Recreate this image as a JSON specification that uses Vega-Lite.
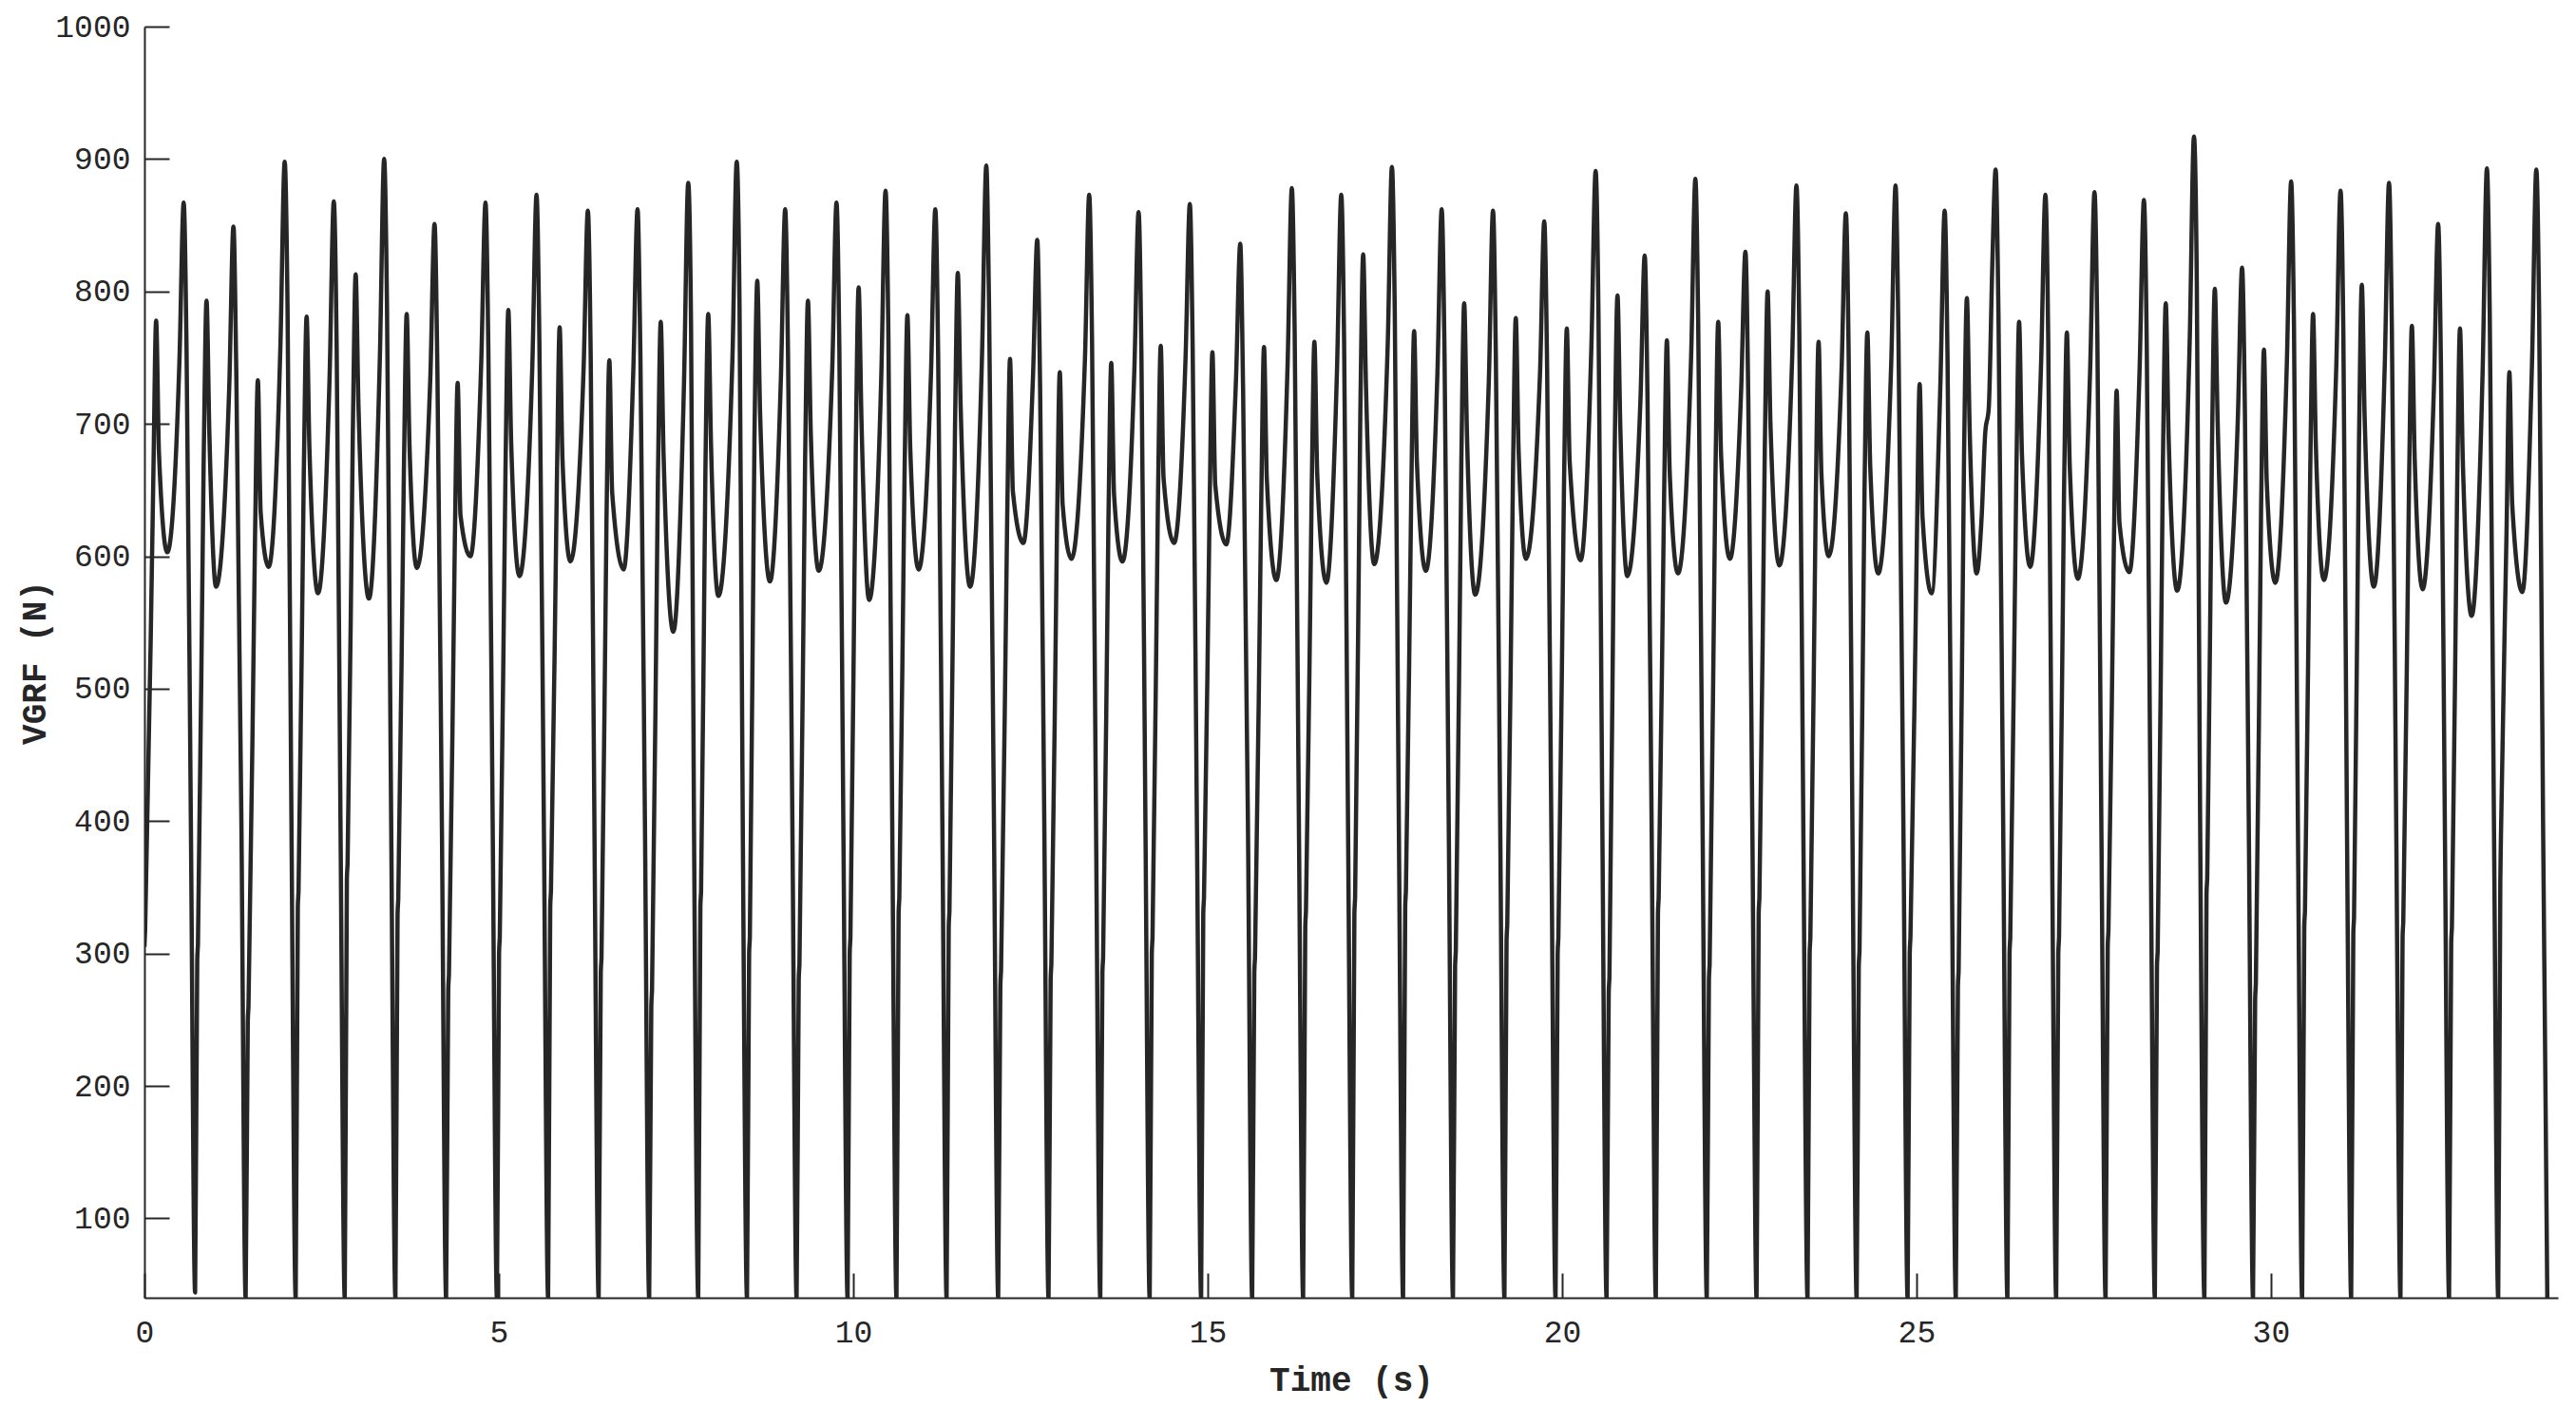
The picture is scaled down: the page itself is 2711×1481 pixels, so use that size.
{
"$schema": "https://vega.github.io/schema/vega-lite/v6.json",
"width": 2540, "height": 1338,
"autosize": {"type": "none"},
"padding": {"left": 152, "top": 28, "right": 19, "bottom": 115},
"background": "white",
"config": {"view": {"stroke": null}},
"data": {"values": [
{"t":0,"v":305},{"t":0.01,"v":318},{"t":0.125,"v":658},{"t":0.165,"v":778},{"t":0.205,"v":678},{"t":0.322,"v":603},{"t":0.494,"v":748},{"t":0.554,"v":867},{"t":0.594,"v":757},{"t":0.655,"v":400},
{"t":0.715,"v":44},{"t":0.745,"v":295},{"t":0.755,"v":307},{"t":0.836,"v":673},{"t":0.876,"v":793},{"t":0.916,"v":693},{"t":1.01,"v":577},{"t":1.196,"v":727},{"t":1.256,"v":849},{"t":1.296,"v":739},{"t":1.368,"v":400},
{"t":1.428,"v":40},{"t":1.458,"v":248},{"t":1.468,"v":260},{"t":1.56,"v":613},{"t":1.6,"v":733},{"t":1.64,"v":633},{"t":1.752,"v":592},{"t":1.919,"v":760},{"t":1.979,"v":898},{"t":2.019,"v":788},{"t":2.074,"v":400},
{"t":2.134,"v":40},{"t":2.164,"v":335},{"t":2.174,"v":347},{"t":2.248,"v":661},{"t":2.288,"v":781},{"t":2.328,"v":681},{"t":2.449,"v":572},{"t":2.612,"v":735},{"t":2.672,"v":868},{"t":2.712,"v":758},{"t":2.766,"v":400},
{"t":2.826,"v":40},{"t":2.856,"v":356},{"t":2.866,"v":368},{"t":2.94,"v":693},{"t":2.98,"v":813},{"t":3.02,"v":713},{"t":3.168,"v":568},{"t":3.322,"v":751},{"t":3.382,"v":900},{"t":3.422,"v":790},{"t":3.481,"v":400},
{"t":3.541,"v":40},{"t":3.571,"v":329},{"t":3.581,"v":341},{"t":3.66,"v":663},{"t":3.7,"v":783},{"t":3.74,"v":683},{"t":3.843,"v":591},{"t":4.033,"v":734},{"t":4.093,"v":851},{"t":4.133,"v":741},{"t":4.196,"v":400},
{"t":4.256,"v":40},{"t":4.286,"v":272},{"t":4.296,"v":284},{"t":4.379,"v":611},{"t":4.419,"v":731},{"t":4.459,"v":631},{"t":4.598,"v":600},{"t":4.752,"v":747},{"t":4.812,"v":867},{"t":4.852,"v":757},{"t":4.913,"v":400},
{"t":4.973,"v":40},{"t":5.003,"v":300},{"t":5.013,"v":312},{"t":5.094,"v":666},{"t":5.134,"v":786},{"t":5.174,"v":686},{"t":5.29,"v":585},{"t":5.472,"v":743},{"t":5.532,"v":873},{"t":5.572,"v":763},{"t":5.635,"v":400},
{"t":5.695,"v":40},{"t":5.725,"v":335},{"t":5.735,"v":347},{"t":5.818,"v":653},{"t":5.858,"v":773},{"t":5.898,"v":673},{"t":6.01,"v":596},{"t":6.196,"v":742},{"t":6.256,"v":861},{"t":6.296,"v":751},{"t":6.348,"v":400},
{"t":6.408,"v":40},{"t":6.438,"v":285},{"t":6.448,"v":297},{"t":6.519,"v":628},{"t":6.559,"v":748},{"t":6.599,"v":648},{"t":6.761,"v":590},{"t":6.897,"v":740},{"t":6.957,"v":862},{"t":6.997,"v":752},{"t":7.061,"v":400},
{"t":7.121,"v":40},{"t":7.151,"v":260},{"t":7.161,"v":272},{"t":7.244,"v":657},{"t":7.284,"v":777},{"t":7.324,"v":677},{"t":7.462,"v":543},{"t":7.612,"v":730},{"t":7.672,"v":882},{"t":7.712,"v":772},{"t":7.753,"v":400},
{"t":7.813,"v":40},{"t":7.843,"v":335},{"t":7.853,"v":347},{"t":7.914,"v":663},{"t":7.954,"v":783},{"t":7.994,"v":683},{"t":8.097,"v":570},{"t":8.296,"v":750},{"t":8.356,"v":898},{"t":8.396,"v":788},{"t":8.441,"v":400},
{"t":8.501,"v":40},{"t":8.531,"v":300},{"t":8.541,"v":312},{"t":8.606,"v":688},{"t":8.646,"v":808},{"t":8.686,"v":708},{"t":8.825,"v":581},{"t":8.98,"v":736},{"t":9.04,"v":862},{"t":9.08,"v":752},{"t":9.141,"v":400},
{"t":9.201,"v":40},{"t":9.231,"v":280},{"t":9.241,"v":292},{"t":9.321,"v":673},{"t":9.361,"v":793},{"t":9.401,"v":693},{"t":9.513,"v":589},{"t":9.704,"v":742},{"t":9.764,"v":867},{"t":9.804,"v":757},{"t":9.86,"v":400},
{"t":9.92,"v":40},{"t":9.95,"v":300},{"t":9.96,"v":312},{"t":10.036,"v":683},{"t":10.076,"v":803},{"t":10.116,"v":703},{"t":10.224,"v":567},{"t":10.396,"v":737},{"t":10.456,"v":876},{"t":10.496,"v":766},{"t":10.55,"v":400},
{"t":10.61,"v":40},{"t":10.64,"v":330},{"t":10.65,"v":342},{"t":10.724,"v":662},{"t":10.764,"v":782},{"t":10.804,"v":682},{"t":10.921,"v":590},{"t":11.098,"v":740},{"t":11.158,"v":862},{"t":11.198,"v":752},{"t":11.257,"v":400},
{"t":11.317,"v":40},{"t":11.347,"v":320},{"t":11.357,"v":332},{"t":11.435,"v":694},{"t":11.475,"v":814},{"t":11.515,"v":714},{"t":11.649,"v":577},{"t":11.817,"v":752},{"t":11.877,"v":895},{"t":11.917,"v":785},{"t":11.985,"v":400},
{"t":12.045,"v":40},{"t":12.075,"v":275},{"t":12.085,"v":287},{"t":12.172,"v":629},{"t":12.212,"v":749},{"t":12.252,"v":649},{"t":12.4,"v":610},{"t":12.536,"v":736},{"t":12.596,"v":839},{"t":12.636,"v":729},{"t":12.695,"v":400},
{"t":12.755,"v":40},{"t":12.785,"v":280},{"t":12.795,"v":292},{"t":12.874,"v":619},{"t":12.914,"v":739},{"t":12.954,"v":639},{"t":13.079,"v":598},{"t":13.269,"v":749},{"t":13.329,"v":873},{"t":13.369,"v":763},{"t":13.425,"v":400},
{"t":13.485,"v":40},{"t":13.515,"v":285},{"t":13.525,"v":297},{"t":13.6,"v":626},{"t":13.64,"v":746},{"t":13.68,"v":646},{"t":13.798,"v":596},{"t":13.966,"v":741},{"t":14.026,"v":860},{"t":14.066,"v":750},{"t":14.122,"v":400},
{"t":14.182,"v":40},{"t":14.212,"v":300},{"t":14.222,"v":312},{"t":14.298,"v":639},{"t":14.338,"v":759},{"t":14.378,"v":659},{"t":14.526,"v":610},{"t":14.689,"v":751},{"t":14.749,"v":866},{"t":14.789,"v":756},{"t":14.848,"v":400},
{"t":14.908,"v":40},{"t":14.938,"v":330},{"t":14.948,"v":342},{"t":15.027,"v":634},{"t":15.067,"v":754},{"t":15.107,"v":654},{"t":15.263,"v":609},{"t":15.4,"v":734},{"t":15.46,"v":836},{"t":15.5,"v":726},{"t":15.568,"v":400},
{"t":15.628,"v":40},{"t":15.658,"v":285},{"t":15.668,"v":297},{"t":15.755,"v":638},{"t":15.795,"v":758},{"t":15.835,"v":658},{"t":15.969,"v":582},{"t":16.128,"v":745},{"t":16.188,"v":878},{"t":16.228,"v":768},{"t":16.287,"v":400},
{"t":16.347,"v":40},{"t":16.377,"v":320},{"t":16.387,"v":332},{"t":16.466,"v":642},{"t":16.506,"v":762},{"t":16.546,"v":662},{"t":16.675,"v":580},{"t":16.825,"v":741},{"t":16.885,"v":873},{"t":16.925,"v":763},{"t":16.98,"v":400},
{"t":17.04,"v":40},{"t":17.07,"v":330},{"t":17.08,"v":342},{"t":17.154,"v":708},{"t":17.194,"v":828},{"t":17.234,"v":728},{"t":17.35,"v":594},{"t":17.54,"v":759},{"t":17.6,"v":894},{"t":17.64,"v":784},{"t":17.697,"v":400},
{"t":17.757,"v":40},{"t":17.787,"v":335},{"t":17.797,"v":347},{"t":17.873,"v":650},{"t":17.913,"v":770},{"t":17.953,"v":670},{"t":18.078,"v":589},{"t":18.242,"v":739},{"t":18.302,"v":862},{"t":18.342,"v":752},{"t":18.401,"v":400},
{"t":18.461,"v":40},{"t":18.491,"v":290},{"t":18.501,"v":302},{"t":18.579,"v":671},{"t":18.619,"v":791},{"t":18.659,"v":691},{"t":18.775,"v":571},{"t":18.966,"v":731},{"t":19.026,"v":861},{"t":19.066,"v":751},{"t":19.127,"v":400},
{"t":19.187,"v":40},{"t":19.217,"v":310},{"t":19.227,"v":322},{"t":19.307,"v":660},{"t":19.347,"v":780},{"t":19.387,"v":680},{"t":19.49,"v":598},{"t":19.689,"v":738},{"t":19.749,"v":853},{"t":19.789,"v":743},{"t":19.848,"v":400},
{"t":19.908,"v":40},{"t":19.938,"v":300},{"t":19.948,"v":312},{"t":20.027,"v":652},{"t":20.067,"v":772},{"t":20.107,"v":672},{"t":20.263,"v":597},{"t":20.414,"v":759},{"t":20.474,"v":891},{"t":20.514,"v":781},{"t":20.568,"v":400},
{"t":20.628,"v":40},{"t":20.658,"v":270},{"t":20.668,"v":282},{"t":20.742,"v":677},{"t":20.782,"v":797},{"t":20.822,"v":697},{"t":20.92,"v":585},{"t":21.106,"v":718},{"t":21.166,"v":827},{"t":21.206,"v":717},{"t":21.263,"v":400},
{"t":21.323,"v":40},{"t":21.353,"v":330},{"t":21.363,"v":342},{"t":21.439,"v":643},{"t":21.479,"v":763},{"t":21.519,"v":663},{"t":21.635,"v":587},{"t":21.821,"v":751},{"t":21.881,"v":885},{"t":21.921,"v":775},{"t":21.982,"v":400},
{"t":22.042,"v":40},{"t":22.072,"v":280},{"t":22.082,"v":292},{"t":22.163,"v":657},{"t":22.203,"v":777},{"t":22.243,"v":677},{"t":22.368,"v":598},{"t":22.527,"v":726},{"t":22.587,"v":830},{"t":22.627,"v":720},{"t":22.684,"v":400},
{"t":22.744,"v":40},{"t":22.774,"v":330},{"t":22.784,"v":342},{"t":22.86,"v":680},{"t":22.9,"v":800},{"t":22.94,"v":700},{"t":23.065,"v":593},{"t":23.247,"v":751},{"t":23.307,"v":880},{"t":23.347,"v":770},{"t":23.403,"v":400},
{"t":23.463,"v":40},{"t":23.493,"v":300},{"t":23.503,"v":312},{"t":23.579,"v":642},{"t":23.619,"v":762},{"t":23.659,"v":662},{"t":23.762,"v":600},{"t":23.944,"v":742},{"t":24.004,"v":859},{"t":24.044,"v":749},{"t":24.096,"v":400},
{"t":24.156,"v":40},{"t":24.186,"v":290},{"t":24.196,"v":302},{"t":24.267,"v":649},{"t":24.307,"v":769},{"t":24.347,"v":669},{"t":24.459,"v":587},{"t":24.645,"v":748},{"t":24.705,"v":880},{"t":24.745,"v":770},{"t":24.815,"v":400},
{"t":24.875,"v":40},{"t":24.905,"v":300},{"t":24.915,"v":312},{"t":25.005,"v":610},{"t":25.045,"v":730},{"t":25.085,"v":630},{"t":25.214,"v":572},{"t":25.338,"v":731},{"t":25.398,"v":861},{"t":25.438,"v":751},{"t":25.495,"v":400},
{"t":25.555,"v":40},{"t":25.585,"v":275},{"t":25.595,"v":287},{"t":25.671,"v":675},{"t":25.711,"v":795},{"t":25.751,"v":695},{"t":25.849,"v":587},{"t":25.92,"v":630},{"t":25.97,"v":693},{"t":26.02,"v":712},{"t":26.07,"v":820},{"t":26.117,"v":892},{"t":26.157,"v":782},{"t":26.223,"v":400},
{"t":26.283,"v":40},{"t":26.313,"v":300},{"t":26.323,"v":312},{"t":26.408,"v":657},{"t":26.448,"v":777},{"t":26.488,"v":677},{"t":26.604,"v":592},{"t":26.759,"v":747},{"t":26.819,"v":873},{"t":26.859,"v":763},{"t":26.911,"v":400},
{"t":26.971,"v":40},{"t":27.001,"v":300},{"t":27.011,"v":312},{"t":27.082,"v":649},{"t":27.122,"v":769},{"t":27.162,"v":669},{"t":27.275,"v":583},{"t":27.452,"v":744},{"t":27.512,"v":875},{"t":27.552,"v":765},{"t":27.608,"v":400},
{"t":27.668,"v":40},{"t":27.698,"v":305},{"t":27.708,"v":317},{"t":27.784,"v":605},{"t":27.824,"v":725},{"t":27.864,"v":625},{"t":28.003,"v":588},{"t":28.149,"v":743},{"t":28.209,"v":869},{"t":28.249,"v":759},{"t":28.303,"v":400},
{"t":28.363,"v":40},{"t":28.393,"v":290},{"t":28.403,"v":302},{"t":28.477,"v":671},{"t":28.517,"v":791},{"t":28.557,"v":691},{"t":28.678,"v":574},{"t":28.855,"v":763},{"t":28.915,"v":917},{"t":28.955,"v":807},{"t":29.002,"v":400},
{"t":29.062,"v":40},{"t":29.092,"v":345},{"t":29.102,"v":357},{"t":29.169,"v":682},{"t":29.209,"v":802},{"t":29.249,"v":702},{"t":29.366,"v":565},{"t":29.534,"v":704},{"t":29.594,"v":818},{"t":29.634,"v":708},{"t":29.688,"v":400},
{"t":29.748,"v":40},{"t":29.778,"v":265},{"t":29.788,"v":277},{"t":29.862,"v":636},{"t":29.902,"v":756},{"t":29.942,"v":656},{"t":30.063,"v":580},{"t":30.226,"v":747},{"t":30.286,"v":883},{"t":30.326,"v":773},{"t":30.381,"v":400},
{"t":30.441,"v":40},{"t":30.471,"v":320},{"t":30.481,"v":332},{"t":30.555,"v":663},{"t":30.595,"v":783},{"t":30.635,"v":683},{"t":30.747,"v":582},{"t":30.923,"v":744},{"t":30.983,"v":876},{"t":31.023,"v":766},{"t":31.073,"v":400},
{"t":31.133,"v":40},{"t":31.163,"v":315},{"t":31.173,"v":327},{"t":31.243,"v":685},{"t":31.283,"v":805},{"t":31.323,"v":705},{"t":31.453,"v":577},{"t":31.607,"v":745},{"t":31.667,"v":882},{"t":31.707,"v":772},{"t":31.768,"v":400},
{"t":31.828,"v":40},{"t":31.858,"v":312},{"t":31.868,"v":324},{"t":31.949,"v":654},{"t":31.989,"v":774},{"t":32.029,"v":674},{"t":32.141,"v":575},{"t":32.3,"v":727},{"t":32.36,"v":851},{"t":32.4,"v":741},{"t":32.454,"v":400},
{"t":32.514,"v":40},{"t":32.544,"v":308},{"t":32.554,"v":320},{"t":32.628,"v":652},{"t":32.668,"v":772},{"t":32.708,"v":672},{"t":32.833,"v":555},{"t":32.988,"v":741},{"t":33.048,"v":893},{"t":33.088,"v":783},{"t":33.147,"v":400},
{"t":33.207,"v":40},{"t":33.237,"v":355},{"t":33.247,"v":392},{"t":33.325,"v":619},{"t":33.365,"v":739},{"t":33.405,"v":639},{"t":33.548,"v":573},{"t":33.685,"v":748},{"t":33.745,"v":892},{"t":33.785,"v":782},{"t":33.84,"v":400},{"t":33.9,"v":40}
]},
"mark": {"type": "line", "interpolate": "monotone", "color": "#262626", "strokeWidth": 4.5, "strokeJoin": "round", "clip": true},
"encoding": {
  "x": {"field": "t", "type": "quantitative",
        "scale": {"domain": [0, 34.05], "nice": false, "zero": false},
        "axis": {"values": [0, 5, 10, 15, 20, 25, 30], "grid": false, "title": "Time (s)", "labelFlush": false,
                 "tickSize": -26, "tickWidth": 2, "tickColor": "#262626",
                 "domainColor": "#262626", "domainWidth": 2,
                 "labelFont": "Liberation Mono", "labelFontSize": 33, "labelColor": "#262626", "labelPadding": 46,
                 "titleFont": "Liberation Mono", "titleFontSize": 36, "titleFontWeight": "bold", "titleColor": "#262626",
                 "titleX": 1270, "titleY": 97, "titleBaseline": "alphabetic", "titleAlign": "center"}},
  "y": {"field": "v", "type": "quantitative",
        "scale": {"domain": [40, 1000], "nice": false, "zero": false},
        "axis": {"values": [100, 200, 300, 400, 500, 600, 700, 800, 900, 1000], "format": "d", "grid": false, "title": "VGRF (N)",
                 "tickSize": -26, "tickWidth": 2, "tickColor": "#262626",
                 "domainColor": "#262626", "domainWidth": 2,
                 "labelFont": "Liberation Mono", "labelFontSize": 33, "labelColor": "#262626", "labelPadding": 41,
                 "titleFont": "Liberation Mono", "titleFontSize": 36, "titleFontWeight": "bold", "titleColor": "#262626",
                 "titleX": -105, "titleY": 669, "titleAngle": -90, "titleBaseline": "alphabetic", "titleAlign": "center"}}
}
}
